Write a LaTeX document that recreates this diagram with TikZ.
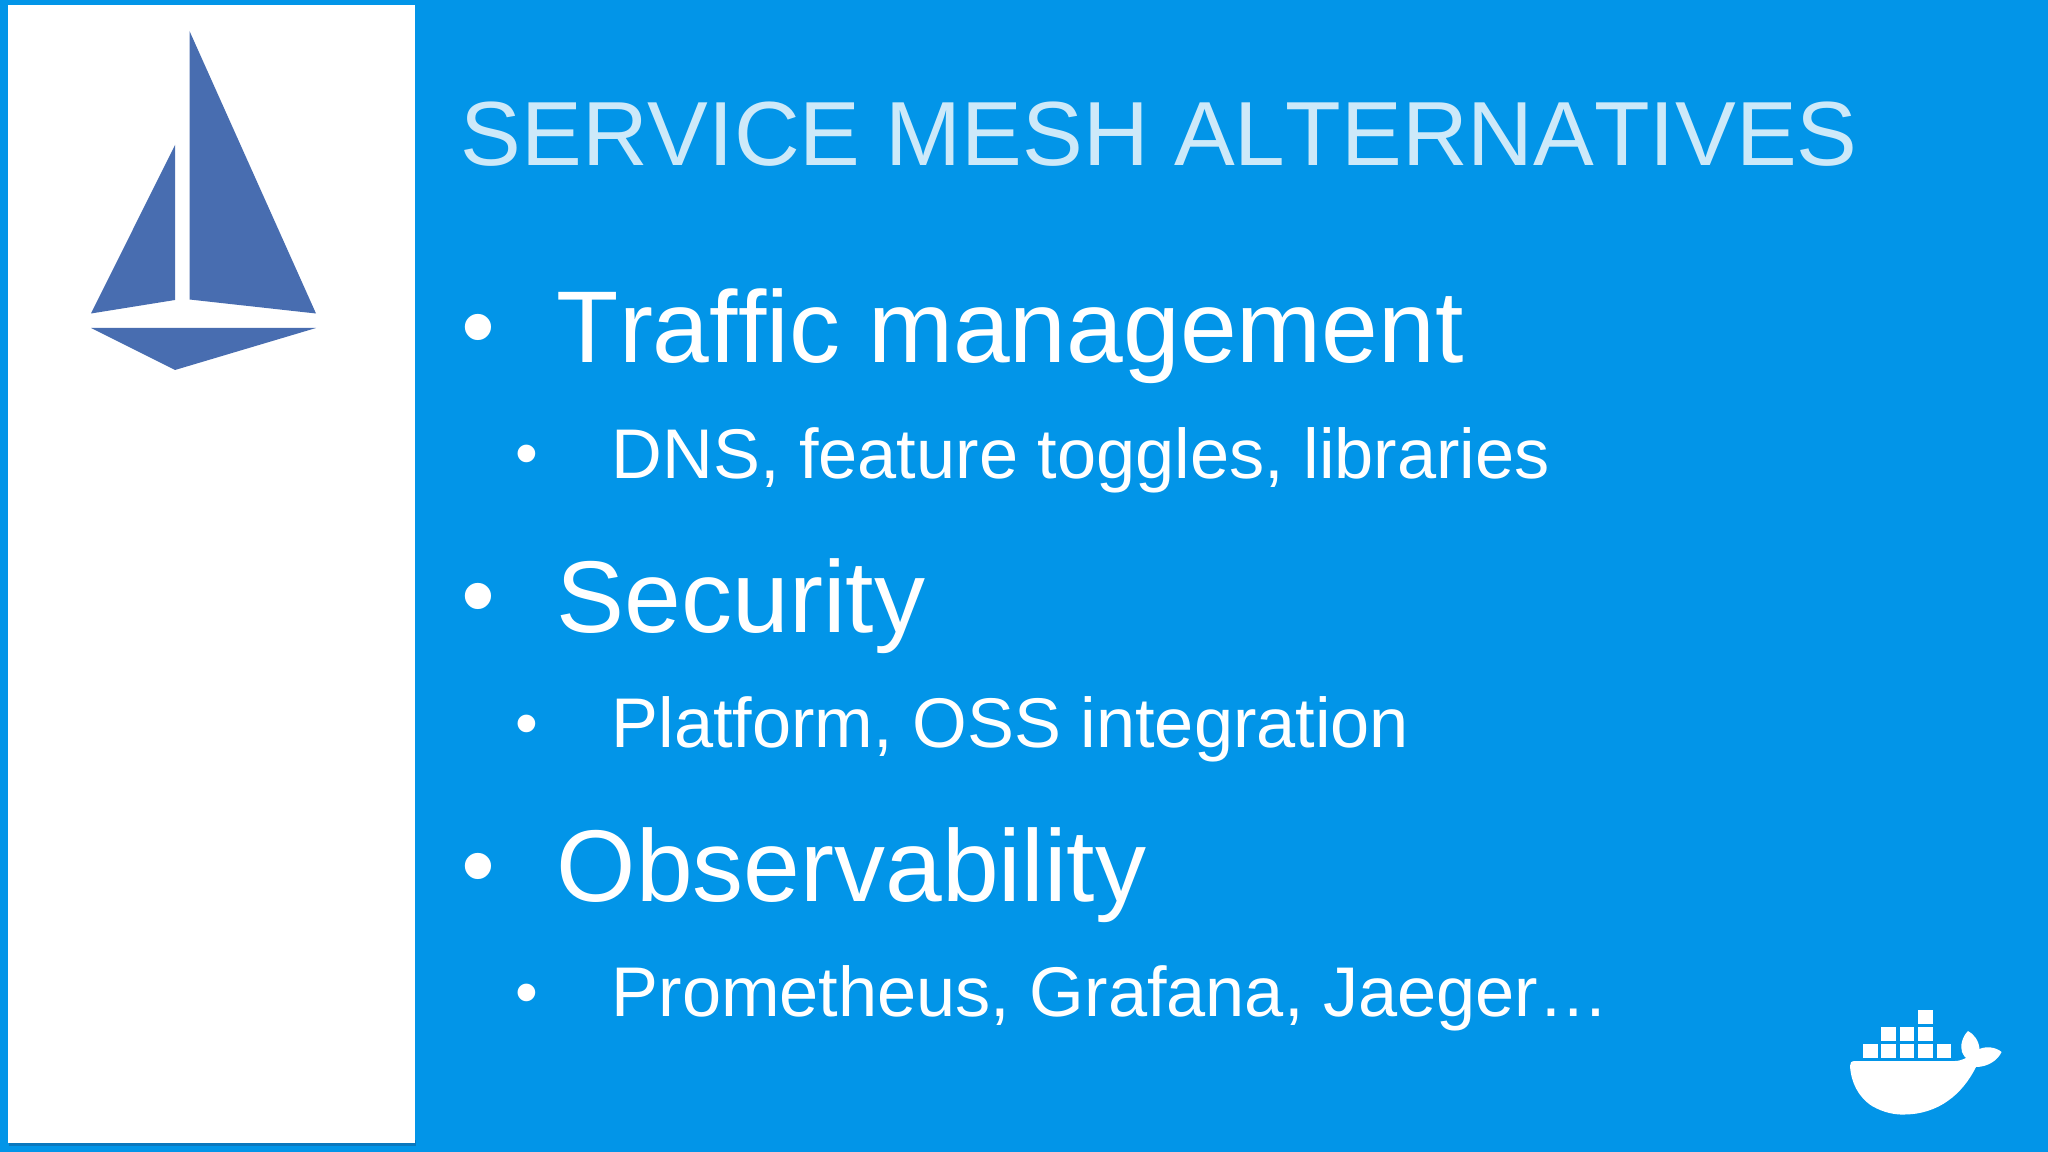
\documentclass[tikz,border=0pt]{standalone}
\usepackage{fontspec}
\setmainfont[Ligatures=NoCommon]{Liberation Sans}
\newfontfamily\headfont[Kerning=Off,Ligatures=NoCommon]{Liberation Sans}
\definecolor{slideblue}{HTML}{0295E8}
\definecolor{titleblue}{HTML}{CDE9F9}
\definecolor{sailblue}{HTML}{486DB0}
\definecolor{shadowblue}{HTML}{0A78BE}
\tikzset{
    headtext/.style={anchor=base west, inner sep=0pt, text=titleblue, font=\headfont\fontsize{25.9}{30}\selectfont},
    maintext/.style={anchor=base west, inner sep=0pt, text=white, font=\headfont\fontsize{29}{34}\selectfont},
    subtext/.style={anchor=base west, inner sep=0pt, text=white, font=\fontsize{20}{24}\selectfont},
    mainbullet/.style={anchor=base, inner sep=0pt, text=white, font=\fontsize{27.5}{32}\selectfont},
    subbullet/.style={anchor=base, inner sep=0pt, text=white, font=\fontsize{18.5}{22}\selectfont},
    crate/.style={fill=white},
}
\begin{document}
\begin{tikzpicture}[x=0.01cm, y=-0.01cm]
    \useasboundingbox (0, 0) rectangle (2048, 1152);
    \fill[slideblue] (0, 0) rectangle (2048, 1152);
    \fill[shadowblue] (9, 1140) rectangle (416, 1146);
    \fill[white] (8, 5) rectangle (415, 1143);
    % sail logo
    \fill[sailblue] (189.5, 31) -- (189.5, 299.5) -- (316, 313.5) -- cycle;
    \fill[sailblue] (175, 145) -- (175, 300) -- (91, 313.5) -- cycle;
    \fill[sailblue] (91, 328) -- (316, 328) -- (175, 370) -- cycle;
    % title and list
    \node[headtext] (title) at (460, 166) {SERVICE MESH ALTERNATIVES};
    \node[mainbullet] (dota) at (478, 360) {•};
    \node[maintext] (traffic) at (556, 363) {Traffic management};
    \node[subbullet] (dotb) at (527, 476) {•};
    \node[subtext] (dns) at (611, 479) {DNS, feature toggles, libraries};
    \node[mainbullet] (dotc) at (478, 629) {•};
    \node[maintext] (security) at (556, 633) {Security};
    \node[subbullet] (dotd) at (527, 745) {•};
    \node[subtext] (platform) at (611, 747) {Platform, OSS integration};
    \node[mainbullet] (dote) at (478, 898) {•};
    \node[maintext] (observ) at (556, 901) {Observability};
    \node[subbullet] (dotf) at (527, 1014) {•};
    \node[subtext] (prom) at (611, 1016) {Prometheus, Grafana, Jaeger…};
    % whale logo
    \foreach \cx/\cy in {1863/1044, 1881/1044, 1899.5/1044, 1918/1044, 1936.5/1044,
                         1881/1027, 1899.5/1027, 1918/1027, 1918/1009.5}
        \fill[crate] (\cx, \cy) rectangle +(14.7, 14);
    \fill[white] (1850, 1066) .. controls (1851, 1082) and (1858, 1097) .. (1872, 1106)
        .. controls (1884, 1113) and (1896, 1115) .. (1905, 1114.5)
        .. controls (1938, 1114) and (1962, 1095) .. (1976, 1067)
        .. controls (1988, 1067) and (1998, 1060) .. (2001.5, 1052)
        .. controls (1996, 1047) and (1986, 1046) .. (1979.5, 1049)
        .. controls (1979, 1041) and (1974, 1034) .. (1968, 1031)
        .. controls (1962, 1037) and (1960, 1046) .. (1962, 1052)
        .. controls (1963, 1055) and (1965, 1057) .. (1966, 1058)
        .. controls (1962, 1060) and (1958, 1061) .. (1955, 1061)
        -- (1855, 1061) .. controls (1851, 1061) and (1850, 1063) .. (1850, 1066) -- cycle;
\end{tikzpicture}
\end{document}
